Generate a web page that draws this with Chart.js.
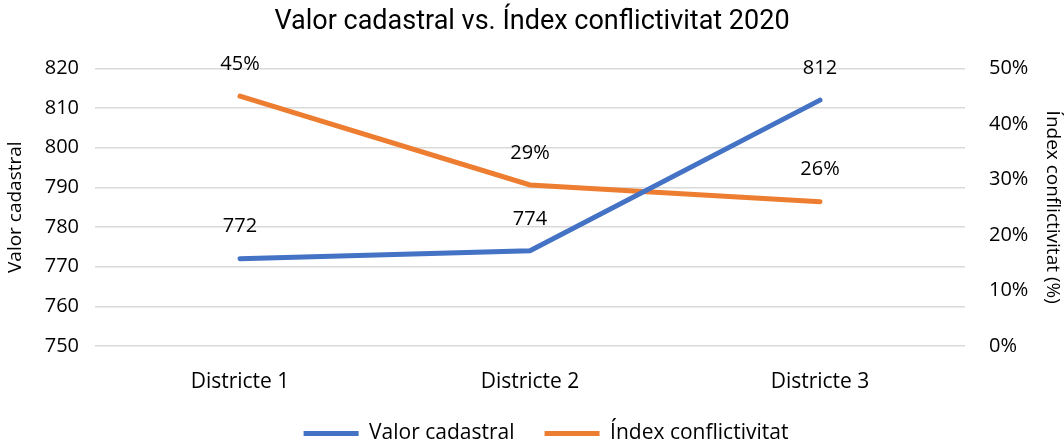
<!DOCTYPE html>
<html>
<head>
<meta charset="utf-8">
<script src="https://cdn.jsdelivr.net/npm/chart.js@4"></script>
<style>
  html, body { margin: 0; padding: 0; background: #fff; }
  #wrap { width: 1064px; height: 446px; }
</style>
</head>
<body>
<div id="wrap"><canvas id="chart"></canvas></div>
<script>
// chart data
const districts = ["Districte 1", "Districte 2", "Districte 3"];
const valorCadastral = [772, 774, 812];
const indexConflictivitat = [45, 29, 26];
const leftTicks = [750, 760, 770, 780, 790, 800, 810, 820];
const rightTicks = [0, 10, 20, 30, 40, 50];

const FONT = "'Open Sans', sans-serif";
const TXT = "#000";

// draws value labels above each point
const pointLabels = {
  id: "pointLabels",
  afterDatasetsDraw(chart) {
    const ctx = chart.ctx;
    ctx.save();
    ctx.font = "20px " + FONT;
    ctx.fillStyle = TXT;
    ctx.textAlign = "center";
    ctx.textBaseline = "middle";
    chart.data.datasets.forEach((ds, i) => {
      const meta = chart.getDatasetMeta(i);
      meta.data.forEach((pt, j) => {
        const v = ds.data[j];
        const text = ds.yAxisID === "y1" ? v + "%" : String(v);
        ctx.fillText(text, pt.x, pt.y - 32);
      });
    });
    ctx.restore();
  },
};

// legend in the original sits a little right of the canvas centre
const nudgeLegend = {
  id: "nudgeLegend",
  afterLayout(chart) {
    chart.legend.left += 14;
    chart.legend.right += 14;
  },
};

new Chart("chart", {
  type: "line",
  data: {
    labels: districts,
    datasets: [
      {
        label: "Valor cadastral",
        data: valorCadastral,
        yAxisID: "y",
        borderColor: "#4472C4",
        backgroundColor: "#4472C4",
        borderWidth: 5,
        borderCapStyle: "round",
        pointRadius: 0,
        tension: 0,
      },
      {
        label: "Índex conflictivitat",
        data: indexConflictivitat,
        yAxisID: "y1",
        borderColor: "#ED7D31",
        backgroundColor: "#ED7D31",
        borderWidth: 5,
        borderCapStyle: "round",
        pointRadius: 0,
        tension: 0,
      },
    ],
  },
  options: {
    responsive: true,
    maintainAspectRatio: false,
    animation: false,
    layout: { padding: { left: 0, right: 0, top: 0, bottom: -8 } },
    plugins: {
      title: {
        display: true,
        text: "Valor cadastral vs. Índex conflictivitat 2020",
        color: TXT,
        font: { family: "Roboto, sans-serif", size: 27, weight: "normal" },
        padding: { top: 6, bottom: 30 },
      },
      legend: {
        position: "bottom",
        labels: {
          usePointStyle: true,
          pointStyle: "line",
          pointStyleWidth: 55,
          boxHeight: 5,
          color: TXT,
          font: { family: FONT, size: 21 },
          padding: 30,
        },
      },
      tooltip: { enabled: false },
    },
    scales: {
      x: {
        offset: true,
        afterFit: (s) => { s.height = 47; },
        grid: { display: false },
        border: { display: false },
        ticks: { color: TXT, font: { family: FONT, size: 21 }, padding: 15 },
      },
      y: {
        position: "left",
        min: 750,
        max: 820,
        afterBuildTicks: (s) => { s.ticks = leftTicks.map((v) => ({ value: v })); },
        afterFit: (s) => { s.width = 95; },
        grid: { color: "#d9d9d9", lineWidth: 1.5, drawTicks: false },
        border: { display: false },
        ticks: { color: TXT, font: { family: FONT, size: 20 }, padding: 16 },
        title: {
          display: true,
          text: "Valor cadastral",
          color: TXT,
          font: { family: FONT, size: 19 },
          padding: { top: 4, bottom: 0 },
        },
      },
      y1: {
        position: "right",
        min: 0,
        max: 50,
        afterBuildTicks: (s) => { s.ticks = rightTicks.map((v) => ({ value: v })); },
        afterFit: (s) => { s.width = 99; },
        grid: { display: false },
        border: { display: false },
        ticks: {
          color: TXT,
          font: { family: FONT, size: 20 },
          padding: 16,
          callback: (v) => v + "%",
        },
        title: {
          display: true,
          text: "Índex conflictivitat (%)",
          color: TXT,
          font: { family: FONT, size: 19 },
          padding: 0,
        },
      },
    },
  },
  plugins: [pointLabels, nudgeLegend],
});
</script>
</body>
</html>
